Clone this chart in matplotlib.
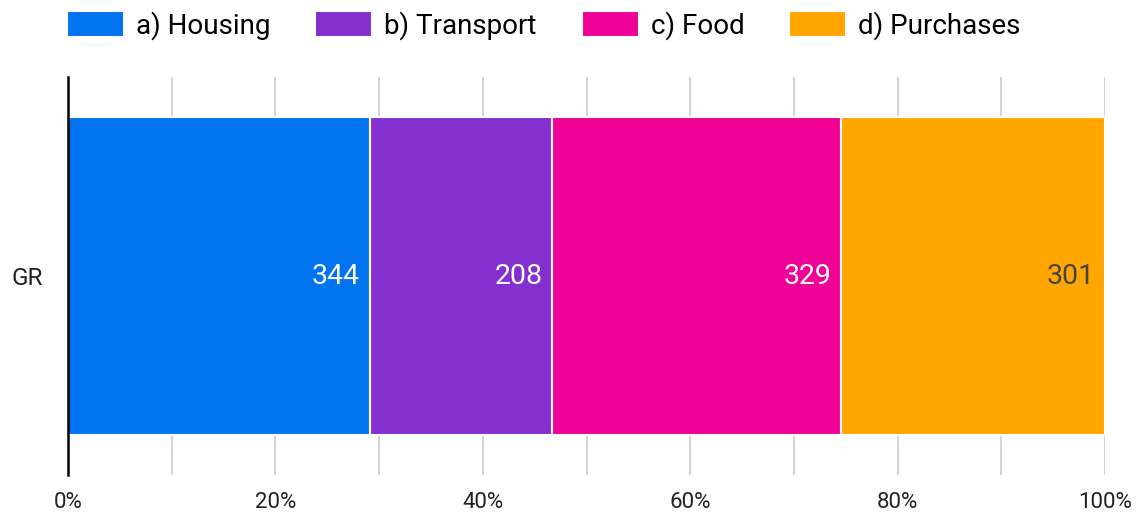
import numpy as np
import matplotlib
matplotlib.use('Agg')
import matplotlib.pyplot as plt
from matplotlib.ticker import FixedLocator, FuncFormatter

plt.rcParams['font.family'] = ['Roboto', 'DejaVu Sans']

# data
category = 'GR'
series = ['a) Housing', 'b) Transport', 'c) Food', 'd) Purchases']
values = [344, 208, 329, 301]
colors = ['#0073ee', '#8430ce', '#ef0096', '#ffa600']
label_colors = ['white', 'white', 'white', '#444444']

fig = plt.figure(figsize=(11.37, 5.14), dpi=100)
ax = fig.add_axes([68/1137, 1-475/514, 1037/1137, 398/514])

total = float(sum(values))
shares = np.array(values) / total
left = 0.0
for i in range(len(values)):
    ax.barh(0, shares[i], left=left, height=1.0, color=colors[i],
            edgecolor='white', linewidth=1.5, label=series[i], zorder=3)
    ax.text(left + shares[i] - 0.0095, 0, str(values[i]), ha='right', va='center',
            color=label_colors[i], fontsize=20.5, zorder=4)
    left += shares[i]

ax.set_xlim(0, 1)
ax.set_ylim(-0.626, 0.626)
ax.xaxis.set_major_locator(FixedLocator(np.arange(0, 1.01, 0.2)))
ax.xaxis.set_minor_locator(FixedLocator(np.arange(0.1, 1.0, 0.2)))
ax.xaxis.set_major_formatter(FuncFormatter(lambda v, p: '%d%%' % round(v*100)))
ax.grid(axis='x', which='both', color='#cccccc', linewidth=1.2, zorder=0)
ax.set_yticks([0])
ax.set_yticklabels([category])
ax.tick_params(axis='x', which='both', length=0, pad=12, labelsize=16, labelcolor='#222222')
ax.tick_params(axis='y', length=0, pad=18, labelsize=17.5, labelcolor='#222222')
for s in ['top', 'right', 'bottom']:
    ax.spines[s].set_visible(False)
ax.spines['left'].set_color('black')
ax.spines['left'].set_linewidth(1.8)
ax.spines['left'].set_zorder(5)

fig.legend(loc='center left', bbox_to_anchor=(67/1137, 1-25.5/514), ncol=4,
           frameon=False, fontsize=20, borderpad=0, borderaxespad=0,
           handlelength=2.05, handleheight=1.04, handletextpad=0.43,
           columnspacing=1.62)

plt.savefig('out.png', dpi=100)
